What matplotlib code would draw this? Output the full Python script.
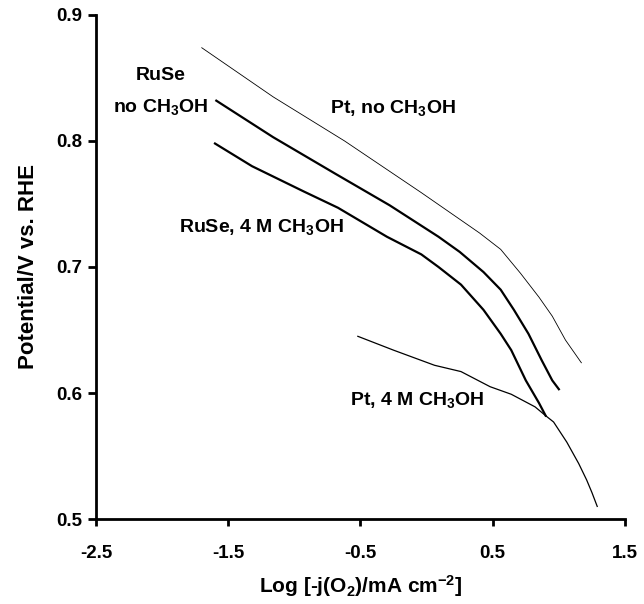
import numpy as np
import matplotlib
matplotlib.use('Agg')
import matplotlib.pyplot as plt

plt.rcParams['font.family'] = ['Liberation Sans', 'DejaVu Sans']
plt.rcParams['font.weight'] = 'bold'
plt.rcParams['axes.unicode_minus'] = False
plt.rcParams['mathtext.fontset'] = 'custom'
plt.rcParams['mathtext.rm'] = 'Liberation Sans:bold'
plt.rcParams['mathtext.it'] = 'Liberation Sans:bold'
plt.rcParams['mathtext.bf'] = 'Liberation Sans:bold'

# Pt, no CH3OH
pt_x = [-1.70, -1.16, -0.62, -0.04, 0.40, 0.56, 0.71, 0.85, 0.95, 1.05, 1.17]
pt_y = [0.874, 0.835, 0.800, 0.759, 0.727, 0.714, 0.695, 0.676, 0.661, 0.642, 0.624]

# RuSe, no CH3OH
ruse_x = [-1.59, -1.16, -0.69, -0.28, 0.09, 0.25, 0.43, 0.56, 0.66, 0.77, 0.87, 0.95, 1.00]
ruse_y = [0.832, 0.803, 0.774, 0.749, 0.724, 0.712, 0.696, 0.682, 0.666, 0.647, 0.626, 0.610, 0.603]

# RuSe, 4 M CH3OH
ruse_m_x = [-1.60, -1.32, -0.93, -0.67, -0.30, -0.04, 0.09, 0.26, 0.43, 0.56, 0.64, 0.75, 0.85, 0.90]
ruse_m_y = [0.798, 0.780, 0.760, 0.747, 0.724, 0.710, 0.700, 0.686, 0.666, 0.647, 0.634, 0.610, 0.592, 0.582]

# Pt, 4 M CH3OH
pt_m_x = [-0.52, -0.25, 0.06, 0.26, 0.48, 0.64, 0.82, 0.90, 0.96, 1.06, 1.15, 1.21, 1.25, 1.29]
pt_m_y = [0.645, 0.634, 0.622, 0.617, 0.605, 0.599, 0.589, 0.582, 0.577, 0.561, 0.544, 0.531, 0.521, 0.510]

fig = plt.figure(figsize=(6.44, 6.04), dpi=100)
ax = fig.add_axes([0.149, 0.1407, 0.8215, 0.8345])

ax.plot(pt_x, pt_y, color='black', lw=0.6)
ax.plot(ruse_x, ruse_y, color='black', lw=1.6)
ax.plot(ruse_m_x, ruse_m_y, color='black', lw=1.6)
ax.plot(pt_m_x, pt_m_y, color='black', lw=0.9)

ax.set_xlim(-2.5, 1.5)
ax.set_ylim(0.5, 0.9)
ax.set_xticks([-2.5, -1.5, -0.5, 0.5, 1.5])
ax.set_yticks([0.5, 0.6, 0.7, 0.8, 0.9])
ax.set_xticklabels(['-2.5', '-1.5', '-0.5', '0.5', '1.5'])
ax.set_yticklabels(['0.5', '0.6', '0.7', '0.8', '0.9'])

for s in ['top', 'right']:
    ax.spines[s].set_visible(False)
for s in ['left', 'bottom']:
    ax.spines[s].set_linewidth(2.0)
ax.tick_params(axis='x', direction='out', length=5, width=2.0, labelsize=13.5, pad=14)
ax.tick_params(axis='y', direction='out', length=6, width=2.0, labelsize=13.5, pad=4)
for lab in ax.get_xticklabels() + ax.get_yticklabels():
    lab.set_fontweight('bold')

ax.set_xlabel('Log [-j(O$_2$)/mA cm$^{-2}$]', fontsize=15, fontweight='bold', labelpad=8)
ax.set_ylabel('Potential/V vs. RHE', fontsize=16, fontweight='bold', labelpad=12)

fs = 14
ax.text(-2.01, 0.852, 'RuSe', fontsize=fs, fontweight='bold', ha='center', va='center')
ax.text(-2.01, 0.8267, 'no CH$_3$OH', fontsize=fs, fontweight='bold', ha='center', va='center')
ax.text(-0.256, 0.826, 'Pt, no CH$_3$OH', fontsize=fs, fontweight='bold', ha='center', va='center')
ax.text(-1.249, 0.732, 'RuSe, 4 M CH$_3$OH', fontsize=fs, fontweight='bold', ha='center', va='center')
ax.text(-0.068, 0.5944, 'Pt, 4 M CH$_3$OH', fontsize=fs, fontweight='bold', ha='center', va='center')

plt.savefig('out.png', dpi=100)
